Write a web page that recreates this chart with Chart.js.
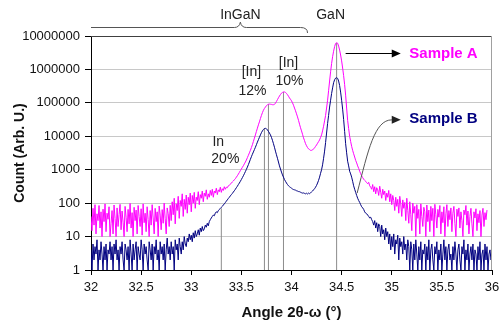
<!DOCTYPE html>
<html lang="en">
<head>
<meta charset="UTF-8">
<title>XRD 2theta-omega scan</title>
<script src="https://cdn.jsdelivr.net/npm/chart.js"></script>
<style>
    html, body { margin: 0; padding: 0; background: #fff; }
</style>
</head>
<body>
<canvas id="xrdChart" width="501" height="324"></canvas>
<script>
// angle grid of the scan (degrees)
const angleStart = 32;
const angleStep = 0.01;

// counts, one value per grid step, 32.00 .. 36.00 (20 per row)
const sampleA = [
    40, 15, 70, 22, 90, 12, 48, 30, 85, 18, 55, 10, 66, 28, 95, 14, 50, 33, 78, 10,
    25, 60, 12, 88, 35, 10, 72, 20, 45, 92, 16, 58, 27, 10, 80, 38, 14, 65, 24, 98,
    18, 52, 10, 75, 30, 62, 12, 85, 40, 20, 68, 11, 95, 26, 50, 14, 78, 32, 10, 60,
    22, 90, 36, 12, 70, 28, 55, 10, 82, 44, 16, 64, 25, 100, 34, 12, 72, 48, 20, 86,
    30, 110, 45, 140, 24, 95, 60, 160, 35, 120, 80, 190, 40, 130, 65, 175, 50, 150, 90, 200,
    55, 170, 100, 210, 70, 150, 120, 220, 90, 180, 140, 230, 110, 200, 160, 250, 130, 190, 150, 240,
    170, 260, 150, 230, 200, 280, 180, 250, 220, 300, 210, 270, 240, 310, 260, 300, 290, 330, 340, 370,
    400, 430, 460, 500, 540, 600, 660, 740, 830, 940, 1050, 1180, 1320, 1500, 1700, 1950, 2300, 2700, 3200, 3800,
    4600, 5600, 7000, 8800, 11000, 14000, 17500, 22000, 27000, 34000, 42000, 51000, 60000, 68000, 75000, 82000, 88000, 91000, 92000, 91000,
    90000, 88000, 88000, 90000, 98000, 110000, 125000, 142000, 160000, 178000, 195000, 205000, 212000, 212000, 205000, 192000, 175000, 158000, 140000, 128000,
    115000, 100000, 85000, 70000, 58000, 47000, 38000, 30000, 23000, 18000, 14500, 11500, 9000, 7400, 6000, 5200, 4600, 4200, 4000, 3800,
    3800, 3900, 4200, 4500, 5000, 5500, 6200, 6900, 7800, 9200, 11000, 14500, 20000, 29000, 42000, 70000, 120000, 230000, 450000, 850000,
    1500000, 2400000, 3500000, 4800000, 6000000, 6300000, 6100000, 5000000, 3800000, 2700000, 1800000, 1100000, 650000, 350000, 170000, 70000, 30000, 17000, 10000, 7000,
    5000, 3800, 3000, 2400, 1900, 1600, 1300, 1100, 900, 760, 650, 580, 520, 480, 450, 410, 380, 420, 330, 300,
    260, 360, 220, 310, 190, 290, 250, 170, 320, 210, 140, 260, 180, 230, 120, 200, 150, 240, 110, 190,
    90, 170, 120, 60, 150, 80, 130, 50, 160, 95, 40, 125, 70, 105, 30, 140, 60, 25, 110, 45,
    15, 100, 50, 80, 10, 90, 35, 65, 12, 95, 40, 20, 75, 55, 10, 88, 28, 62, 14, 80,
    30, 70, 10, 92, 45, 18, 65, 38, 85, 12, 55, 26, 78, 10, 48, 90, 20, 60, 32, 72,
    14, 50, 80, 25, 10, 66, 40, 72, 18, 55, 30, 10, 62, 45, 85, 22, 58, 12, 40, 70,
    24, 10, 55, 36, 68, 15, 48, 26, 60, 10, 44, 70, 20, 52, 32, 62, null, null, null, null,
    null
];
const sampleB = [
    4, 1, 6, 2, 5, 3, 8, 1, 4, 2, 7, 3, 1, 5, 2, 6, 1, 4, 3, 7,
    2, 5, 1, 6, 3, 8, 2, 4, 1, 5, 3, 7, 2, 1, 6, 4, 2, 5, 1, 8,
    3, 1, 6, 2, 4, 7, 1, 5, 3, 2, 8, 4, 1, 6, 3, 5, 2, 1, 7, 4,
    2, 6, 1, 5, 3, 8, 2, 4, 1, 7, 3, 5, 2, 6, 1, 4, 9, 3, 5, 2,
    7, 3, 5, 1, 8, 4, 6, 2, 9, 5, 3, 7, 4, 10, 6, 5, 9, 7, 12, 8,
    11, 7, 13, 9, 15, 10, 12, 16, 11, 18, 14, 20, 15, 17, 22, 19, 25, 21, 28, 32,
    36, 40, 44, 42, 50, 55, 52, 60, 64, 70, 75, 80, 88, 95, 104, 115, 125, 138, 150, 165,
    180, 195, 215, 235, 260, 290, 320, 360, 400, 450, 510, 580, 660, 760, 880, 1020, 1200, 1420, 1700, 2050,
    2450, 2900, 3400, 4000, 4700, 5600, 6700, 7900, 9300, 11000, 12800, 14500, 16000, 17000, 17300, 16800, 15500, 14000, 12500, 11000,
    9300, 7600, 6000, 4700, 3600, 2800, 2200, 1700, 1300, 1050, 850, 700, 600, 510, 450, 400, 360, 330, 310, 295,
    280, 265, 255, 250, 245, 235, 230, 222, 220, 212, 205, 200, 202, 196, 190, 198, 188, 200, 192, 205,
    215, 230, 250, 270, 300, 340, 400, 480, 600, 780, 1000, 1400, 2200, 3600, 6500, 12500, 24000, 42000, 75000, 120000,
    190000, 280000, 400000, 490000, 550000, 565000, 540000, 450000, 330000, 210000, 120000, 65000, 32000, 14000, 6000, 3200, 1800, 1300, 900, 750,
    600, 450, 330, 260, 210, 170, 140, 120, 105, 90, 78, 72, 65, 55, 50, 48, 44, 40, 36, 38,
    32, 28, 22, 30, 18, 26, 14, 24, 20, 10, 22, 12, 16, 8, 18, 10, 14, 6, 12, 4,
    10, 5, 12, 3, 8, 6, 11, 2, 9, 5, 7, 3, 10, 4, 6, 2, 8, 5, 1, 7,
    4, 1, 6, 2, 8, 3, 1, 5, 2, 7, 1, 4, 3, 6, 1, 5, 2, 8, 1, 4,
    6, 2, 1, 5, 3, 7, 1, 4, 2, 6, 1, 3, 8, 2, 5, 1, 4, 6, 2, 3,
    1, 5, 2, 7, 3, 1, 4, 6, 2, 1, 5, 3, 8, 1, 4, 2, 6, 1, 3, 5,
    2, 6, 1, 4, 3, 1, 5, 2, 7, 1, 3, 4, 1, 6, 2, 5, 1, 3, 4, 2,
    3
];

// vertical peak markers: angle and the count they reach up to
const markerAngles = [33.3, 33.73, 33.77, 33.92, 34.45];
const markerTops = [70, 17400, 92000, 212000, 6200000];

const xTicks = [32, 32.5, 33, 33.5, 34, 34.5, 35, 35.5, 36];
const yTicks = [1, 10, 100, 1000, 10000, 100000, 1000000, 10000000];

const FONT = "'Liberation Sans', Arial, sans-serif";

function toPoints(values) {
    return values.map((v, i) => ({ x: +(angleStart + i * angleStep).toFixed(2), y: v }));
}

const markerSets = markerAngles.map((a, i) => ({
    data: [{ x: a, y: 1 }, { x: a, y: markerTops[i] }],
    borderColor: '#8c8c8c',
    borderWidth: 1,
    order: 2
}));

// texts and arrows, placed in data coordinates
const notes = [
    { text: 'InGaN', x: 33.49, y: 4.3e7 },
    { text: 'GaN', x: 34.39, y: 4.3e7 },
    { text: '[In]', x: 33.60, y: 8.3e5 },
    { text: '12%', x: 33.61, y: 2.3e5 },
    { text: '[In]', x: 33.97, y: 1.56e6 },
    { text: '10%', x: 33.98, y: 4.5e5 },
    { text: 'In', x: 33.27, y: 6700 },
    { text: '20%', x: 33.34, y: 2100 }
];

const notePlugin = {
    id: 'notes',
    afterDraw(chart) {
        const { ctx, chartArea: a, scales: { x, y } } = chart;
        const px = v => x.getPixelForValue(v);
        const py = v => y.getPixelForValue(v);
        ctx.save();

        // top and right frame
        ctx.lineWidth = 1;
        ctx.strokeStyle = '#404040';
        ctx.beginPath();
        ctx.moveTo(a.left, Math.round(a.top) + 0.5);
        ctx.lineTo(a.right, Math.round(a.top) + 0.5);
        ctx.stroke();
        ctx.strokeStyle = '#a0a0a0';
        ctx.beginPath();
        ctx.moveTo(Math.round(a.right) - 0.5, a.top);
        ctx.lineTo(Math.round(a.right) - 0.5, a.bottom);
        ctx.stroke();

        // brace over the InGaN range
        const yb = Math.round(py(1.86e7)) + 0.5;
        const cx = px(33.49), tip = py(2.6e7);
        const rx = px(34.09), ex = px(34.16), ey = py(1.23e7);
        ctx.strokeStyle = '#555';
        ctx.beginPath();
        ctx.moveTo(px(32), yb);
        ctx.lineTo(cx - 6, yb);
        ctx.quadraticCurveTo(cx - 1, yb, cx, tip);
        ctx.quadraticCurveTo(cx + 1, yb, cx + 6, yb);
        ctx.lineTo(rx, yb);
        ctx.quadraticCurveTo(ex, yb, ex, ey);
        ctx.stroke();

        ctx.fillStyle = '#222';
        ctx.font = '14px ' + FONT;
        ctx.textAlign = 'center';
        ctx.textBaseline = 'middle';
        notes.forEach(n => ctx.fillText(n.text, px(n.x), py(n.y)));

        function arrowHead(tx, ty, color) {
            ctx.fillStyle = color;
            ctx.beginPath();
            ctx.moveTo(tx, ty);
            ctx.lineTo(tx - 9, ty - 4);
            ctx.lineTo(tx - 9, ty + 4);
            ctx.closePath();
            ctx.fill();
        }

        // Sample A arrow
        const ya = Math.round(py(3.16e6)) + 0.5;
        ctx.strokeStyle = '#000';
        ctx.beginPath();
        ctx.moveTo(px(34.54), ya);
        ctx.lineTo(px(35.09) - 6, ya);
        ctx.stroke();
        arrowHead(px(35.09), ya, '#000');

        // Sample B curved arrow
        const yB = py(31000);
        ctx.strokeStyle = '#555';
        ctx.beginPath();
        ctx.moveTo(px(34.655), py(200));
        ctx.bezierCurveTo(px(34.765), py(3900), px(34.83), yB, px(35.0), yB);
        ctx.lineTo(px(35.09) - 6, yB);
        ctx.stroke();
        arrowHead(px(35.09), yB, '#222');

        ctx.font = 'bold 15px ' + FONT;
        ctx.textAlign = 'left';
        ctx.fillStyle = '#ff00ff';
        ctx.fillText('Sample A', px(35.175), py(2.9e6));
        ctx.fillStyle = '#000080';
        ctx.fillText('Sample B', px(35.175), py(33000));

        ctx.restore();
    }
};

new Chart(document.getElementById('xrdChart'), {
    type: 'line',
    data: {
        datasets: [
            { data: toPoints(sampleB), borderColor: '#000080', borderWidth: 1, order: 0 },
            { data: toPoints(sampleA), borderColor: '#ff00ff', borderWidth: 1, order: 1 },
            ...markerSets
        ]
    },
    options: {
        responsive: false,
        animation: false,
        layout: { padding: { top: 36, right: 9, left: 0, bottom: 0 } },
        elements: { point: { radius: 0 }, line: { tension: 0 } },
        plugins: { legend: { display: false }, tooltip: { enabled: false } },
        scales: {
            x: {
                type: 'linear',
                min: 32,
                max: 36,
                afterBuildTicks: s => { s.ticks = xTicks.map(v => ({ value: v })); },
                afterFit: s => { s.height = 54; s.paddingLeft = 0; s.paddingRight = 0; },
                ticks: { color: '#111', font: { family: FONT, size: 13 }, padding: 5, maxRotation: 0, callback: v => String(v) },
                grid: { drawOnChartArea: false, tickLength: 5, tickColor: '#000' },
                border: { color: '#000' },
                title: {
                    display: true,
                    text: 'Angle 2θ-ω (°)',
                    color: '#111',
                    font: { family: FONT, size: 15, weight: 'bold' },
                    padding: { top: 0, bottom: 2 }
                }
            },
            y: {
                type: 'logarithmic',
                min: 1,
                max: 10000000,
                afterBuildTicks: s => { s.ticks = yTicks.map(v => ({ value: v })); },
                afterFit: s => { s.width = 91; },
                ticks: { color: '#111', font: { family: FONT, size: 13 }, padding: 5, callback: v => String(v) },
                grid: { color: '#c8c8c8', tickLength: 6, tickColor: '#000' },
                border: { color: '#000' },
                title: {
                    display: true,
                    text: 'Count (Arb. U.)',
                    color: '#111',
                    font: { family: FONT, size: 14, weight: 'bold' },
                    padding: { top: 12, bottom: 0 }
                }
            }
        }
    },
    plugins: [notePlugin]
});
</script>
</body>
</html>
